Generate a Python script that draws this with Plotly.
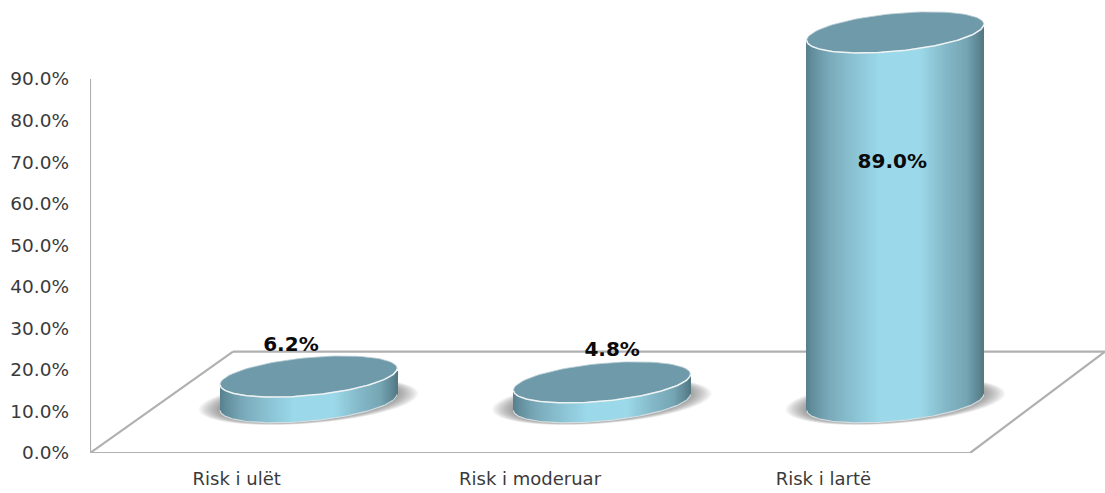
import numpy as np
import plotly.graph_objects as go

# Chart data
categories = ["Risk i ulët", "Risk i moderuar", "Risk i lartë"]
values = [6.2, 4.8, 89.0]
y_ticks = [0, 10, 20, 30, 40, 50, 60, 70, 80, 90]

# Scene geometry, in axis units
X_LEFT, X_RIGHT = -0.5, 2.96
Y_TOP = 109.0
FRONT_RIGHT = 2.5
DEPTH_X, DEPTH_Y = 0.4875, 24.4
CENTER_SHIFT, BASE_LEVEL = 0.245, 12.2
SEMI_X, SEMI_Y, TILT = 0.3017, 4.55, 1.93
N_STRIPS = 177

# Offsets of each value label from the cylinder's top centre
label_dx = [-0.06, 0.035, -0.01]
label_dy = [7.3, 7.6, -31.5]

FLOOR_COLOR = "#b0b0b0"
TOP_COLOR = "#6f9aa9"
GRAD_POS = [0.0, 0.04, 0.13, 0.23, 0.415, 0.64, 0.79, 0.905, 0.98, 1.0]
GRAD_RGB = [(88, 128, 142), (100, 144, 158), (122, 170, 186), (134, 188, 204), (154, 216, 234),
            (156, 218, 234), (132, 184, 200), (118, 166, 180), (92, 132, 144), (82, 120, 130)]


def ellipse(cx, cy, sx, sy, tilt, t0=0.0, t1=2 * np.pi, n=90):
    t = np.linspace(t0, t1, n)
    c, s = np.cos(t), np.sin(t)
    return cx + sx * c, cy + sy * s + tilt * c


def poly_path(xs, ys):
    return "M" + " L".join(f"{a:.4f},{b:.3f}" for a, b in zip(xs, ys)) + " Z"


def line_shape(x0, y0, x1, y1):
    return dict(type="line", layer="below", xref="x", yref="y", x0=x0, y0=y0, x1=x1, y1=y1,
                line=dict(color=FLOOR_COLOR, width=2.2))


shapes = [
    line_shape(X_LEFT, 0, X_LEFT, 90),
    line_shape(X_LEFT, 0, FRONT_RIGHT, 0),
    line_shape(X_LEFT, 0, X_LEFT + DEPTH_X, DEPTH_Y),
    line_shape(X_LEFT + DEPTH_X, DEPTH_Y, X_RIGHT, DEPTH_Y),
    line_shape(FRONT_RIGHT, 0, X_RIGHT, DEPTH_Y),
]

fig = go.Figure()
centers = [i + CENTER_SHIFT for i in range(len(values))]

for i, (cx, v) in enumerate(zip(centers, values)):
    # Soft contact shadow on the floor, built from stacked translucent ellipses
    for grow in np.linspace(1.24, 0.96, 16):
        xs, ys = ellipse(cx, BASE_LEVEL + 0.2, SEMI_X * grow, SEMI_Y * (0.55 + 0.5 * grow), TILT)
        shapes.append(dict(type="path", layer="below", xref="x", yref="y", path=poly_path(xs, ys),
                           fillcolor="rgba(70,70,70,0.05)", line=dict(width=0)))

    # Cylinder wall as a row of narrow bars shaded across its width
    w = 2 * SEMI_X / N_STRIPS
    sx = cx - SEMI_X + (np.arange(N_STRIPS) + 0.5) * w
    u = (sx - cx) / SEMI_X
    lower = BASE_LEVEL + TILT * u - SEMI_Y * np.sqrt(1 - u ** 2)
    f = (u + 1) / 2
    rgb = np.column_stack([np.interp(f, GRAD_POS, [c[j] for c in GRAD_RGB]) for j in range(3)]).astype(int)
    fig.add_trace(go.Bar(x=sx, y=np.full(N_STRIPS, v), base=lower, width=w * 1.05,
                         marker=dict(color=[f"rgb({r},{g},{b})" for r, g, b in rgb], line=dict(width=0)),
                         hoverinfo="skip", showlegend=False))

    # Pale outline along the foot of the wall
    xs, ys = ellipse(cx, BASE_LEVEL, SEMI_X, SEMI_Y, TILT, np.pi, 2 * np.pi)
    fig.add_trace(go.Scatter(x=xs, y=ys, mode="lines", line=dict(color="#d6dde0", width=1.2),
                             hoverinfo="skip", showlegend=False))

    # Top face and its bright front rim
    xs, ys = ellipse(cx, BASE_LEVEL + v, SEMI_X, SEMI_Y, TILT)
    fig.add_trace(go.Scatter(x=xs, y=ys, mode="lines", fill="toself", fillcolor=TOP_COLOR,
                             line=dict(color="#b9cdd4", width=0.8), hoverinfo="skip", showlegend=False))
    xs, ys = ellipse(cx, BASE_LEVEL + v, SEMI_X, SEMI_Y, TILT, np.pi, 2 * np.pi)
    fig.add_trace(go.Scatter(x=xs, y=ys, mode="lines", line=dict(color="#eef3f4", width=1.5),
                             hoverinfo="skip", showlegend=False))

# Value labels
fig.add_trace(go.Scatter(
    x=[c + d for c, d in zip(centers, label_dx)],
    y=[BASE_LEVEL + v + d for v, d in zip(values, label_dy)],
    mode="text", text=[f"{v:.1f}%" for v in values], textposition="middle center",
    textfont=dict(family="DejaVu Sans", size=20, color="#0a0a0a", weight="bold"),
    hoverinfo="skip", showlegend=False,
))

fig.update_layout(
    width=1105, height=493, margin=dict(l=90, r=0, t=0, b=40),
    paper_bgcolor="white", plot_bgcolor="white", barmode="overlay", bargap=0,
    shapes=shapes, showlegend=False,
    xaxis=dict(range=[X_LEFT, X_RIGHT], tickmode="array", tickvals=list(range(len(categories))),
               ticktext=categories, showgrid=False, zeroline=False, showline=False, ticks="",
               ticklabelstandoff=13, tickfont=dict(family="DejaVu Sans", size=18, color="#3a3a3a")),
    yaxis=dict(range=[0, Y_TOP], tickmode="array", tickvals=y_ticks,
               ticktext=[f"{t:.1f}%" for t in y_ticks], showgrid=False, zeroline=False, showline=False,
               ticks="", ticklabelstandoff=20, tickfont=dict(family="DejaVu Sans", size=18.5, color="#3a3a3a")),
)

fig.write_html("out.html", config=dict(displayModeBar=False))
